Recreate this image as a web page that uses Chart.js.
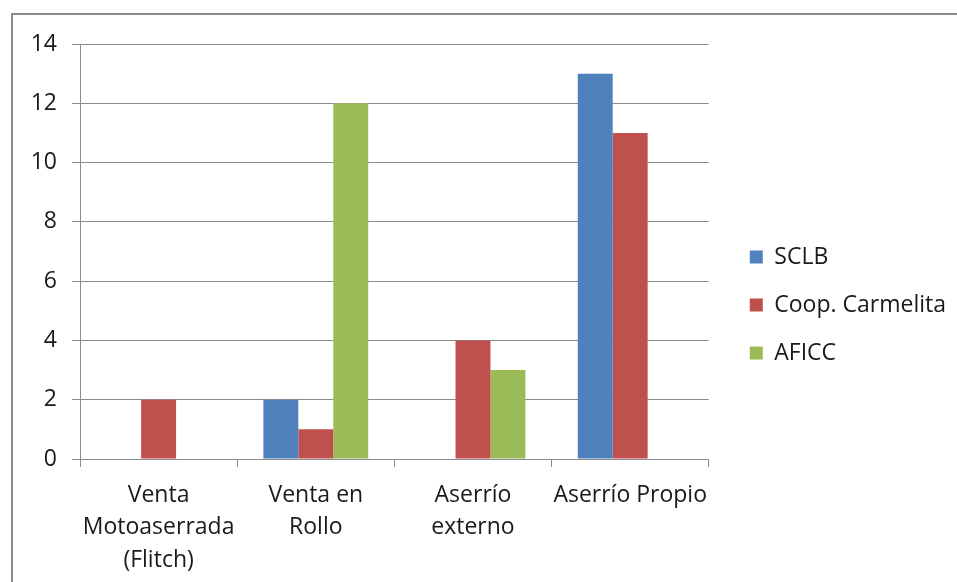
<!DOCTYPE html>
<html>
<head>
<meta charset="utf-8">
<script src="https://cdn.jsdelivr.net/npm/chart.js@4/dist/chart.umd.min.js"></script>
<style>
  body { margin: 0; background: #fff; }
  #frame { position: absolute; left: 11px; top: 13px; width: 1000px; height: 620px; border: 2px solid #8a8a8a; }
  #wrap { position: absolute; left: 0; top: 0; width: 957px; height: 582px; }
</style>
</head>
<body>
<div id="frame"></div>
<div id="wrap"><canvas id="barChart" width="957" height="582"></canvas></div>
<script>
var categories = [
  ["Venta", "Motoaserrada", "(Flitch)"],
  ["Venta en", "Rollo"],
  ["Aserrío", "externo"],
  "Aserrío Propio"
];
var sclbValues = [0, 2, 0, 13];
var carmelitaValues = [2, 1, 4, 11];
var aficcValues = [0, 12, 3, 0];
var seriesNames = ["SCLB", "Coop. Carmelita", "AFICC"];
var seriesColors = ["#4f81bd", "#c0504d", "#9bbb59"];

var fontName = "Open Sans";
var textColor = "#1a1a1a";
var gridColor = "#8c8c8c";

// nudge the legend away from the plot and up a bit
var legendShift = {
  id: "legendShift",
  afterLayout: function (chart) {
    var lg = chart.legend;
    lg.left += 16;
    lg.right += 16;
    lg.top -= 8;
    lg.bottom -= 8;
  }
};

var ctx = document.getElementById("barChart").getContext("2d");

new Chart(ctx, {
  type: "bar",
  data: {
    labels: categories,
    datasets: [
      { label: seriesNames[0], data: sclbValues, backgroundColor: seriesColors[0] },
      { label: seriesNames[1], data: carmelitaValues, backgroundColor: seriesColors[1] },
      { label: seriesNames[2], data: aficcValues, backgroundColor: seriesColors[2] }
    ]
  },
  options: {
    responsive: false,
    animation: false,
    layout: { padding: { top: 44, bottom: 0, left: 0, right: 17 } },
    datasets: { bar: { categoryPercentage: 0.667, barPercentage: 1, borderWidth: 0 } },
    scales: {
      x: {
        grid: { offset: true, drawOnChartArea: false, color: gridColor, tickLength: 8 },
        border: { color: gridColor },
        ticks: { color: textColor, padding: 12, font: { family: fontName, size: 23, lineHeight: 1.41 }, maxRotation: 0 },
        afterFit: function (scale) { scale.height = 123; }
      },
      y: {
        min: 0,
        max: 14,
        ticks: { stepSize: 2, color: textColor, padding: 15, font: { family: fontName, size: 23 } },
        grid: { color: gridColor, tickLength: 8 },
        border: { color: gridColor },
        afterFit: function (scale) { scale.width = 80; }
      }
    },
    plugins: {
      title: { display: false },
      tooltip: { enabled: false },
      legend: {
        display: true,
        position: "right",
        labels: { boxWidth: 13, boxHeight: 13, padding: 25, color: textColor, font: { family: fontName, size: 23 } }
      }
    }
  },
  plugins: [legendShift]
});
</script>
</body>
</html>
